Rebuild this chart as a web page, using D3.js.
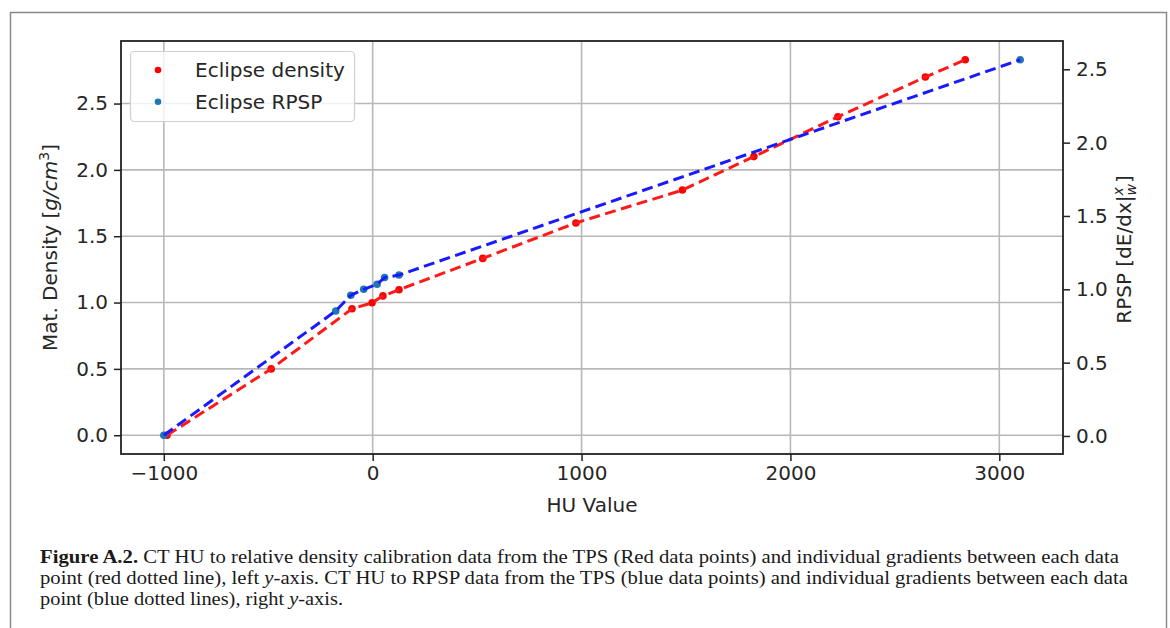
<!DOCTYPE html>
<html>
<head>
<meta charset="utf-8">
<script src="https://cdn.jsdelivr.net/npm/d3@7"></script>
<style>
  html, body { margin: 0; padding: 0; background: #fff; }
  svg { display: block; }
</style>
</head>
<body>
<svg id="chart" width="1170" height="628"></svg>
<script>
// ---- data ----
const densityHU = [-985, -486, -99, -3, 49, 126, 527, 973, 1483, 1825, 2227, 2646, 2837];
const densityVal = [0.0, 0.50, 0.953, 0.998, 1.05, 1.097, 1.333, 1.60, 1.848, 2.10, 2.40, 2.70, 2.83];
const rpspHU = [-1000, -177, -105, -43, 21, 57, 126, 3100];
const rpspVal = [0.005, 0.852, 0.959, 1.0, 1.034, 1.08, 1.097, 2.565];
const xTicks = [-1000, 0, 1000, 2000, 3000];
const yLeftTicks = [0.0, 0.5, 1.0, 1.5, 2.0, 2.5];
const yRightTicks = [0.0, 0.5, 1.0, 1.5, 2.0, 2.5];
const seriesNames = ["Eclipse density", "Eclipse RPSP"];
const captionLines = [
  [{t: "Figure A.2.", b: true}, {t: " CT HU to relative density calibration data from the TPS (Red data points) and individual gradients between each data"}],
  [{t: "point (red dotted line), left "}, {t: "y", i: true}, {t: "-axis. CT HU to RPSP data from the TPS (blue data points) and individual gradients between each data"}],
  [{t: "point (blue dotted lines), right "}, {t: "y", i: true}, {t: "-axis."}]
];

const svg = d3.select("#chart");
const font = "'DejaVu Sans', sans-serif";
const L = 121, R = 1063, T = 41, B = 454;

function padded(ext) { const p = (ext[1] - ext[0]) * 0.05; return [ext[0] - p, ext[1] + p]; }
const allHU = densityHU.concat(rpspHU);
const x = d3.scaleLinear().domain(padded(d3.extent(allHU))).range([L, R]);
const yL = d3.scaleLinear().domain(padded(d3.extent(densityVal))).range([B, T]);
const yR = d3.scaleLinear().domain(padded(d3.extent(rpspVal))).range([B, T]);

// outer frame
svg.append("path").attr("d", "M10.5,628 V12.5 H1166.5 V628")
  .attr("fill", "none").attr("stroke", "#8a8a8a").attr("stroke-width", 1.5);

// grid
const grid = svg.append("g");
grid.selectAll(".gx").data(xTicks).enter().append("line")
  .attr("x1", d => x(d)).attr("x2", d => x(d)).attr("y1", T).attr("y2", B)
  .attr("stroke", "#b8b8b8").attr("stroke-width", 1.6);
grid.selectAll(".gy").data(yLeftTicks).enter().append("line")
  .attr("x1", L).attr("x2", R).attr("y1", d => yL(d)).attr("y2", d => yL(d))
  .attr("stroke", "#b8b8b8").attr("stroke-width", 1.6);

// series
const dData = densityHU.map((h, i) => [h, densityVal[i]]);
const rData = rpspHU.map((h, i) => [h, rpspVal[i]]);
const lineD = d3.line().x(d => x(d[0])).y(d => yL(d[1]));
const lineR = d3.line().x(d => x(d[0])).y(d => yR(d[1]));

svg.append("g").selectAll("circle").data(dData).enter().append("circle")
  .attr("cx", d => x(d[0])).attr("cy", d => yL(d[1])).attr("r", 3.8).attr("fill", "#ff0000");
svg.append("path").datum(dData).attr("d", lineD).attr("fill", "none")
  .attr("stroke", "#ff1a1a").attr("stroke-width", 3).attr("stroke-dasharray", "11,5.5");

svg.append("g").selectAll("circle").data(rData).enter().append("circle")
  .attr("cx", d => x(d[0])).attr("cy", d => yR(d[1])).attr("r", 3.8).attr("fill", "#1f77b4");
svg.append("path").datum(rData).attr("d", lineR).attr("fill", "none")
  .attr("stroke", "#1a1aff").attr("stroke-width", 3).attr("stroke-dasharray", "11,5.5");

// axes
const axStyle = g => {
  g.select(".domain").remove();
  g.selectAll(".tick line").attr("stroke", "#222").attr("stroke-width", 1.5);
  g.selectAll(".tick text").attr("font-family", font).attr("font-size", 20).attr("fill", "#262626");
};
svg.append("g").attr("transform", `translate(0,${B})`)
  .call(d3.axisBottom(x).tickValues(xTicks).tickSize(7).tickPadding(5)
    .tickFormat(d => d < 0 ? "\u2212" + Math.abs(d) : String(d)))
  .call(axStyle);
svg.append("g").attr("transform", `translate(${L},0)`)
  .call(d3.axisLeft(yL).tickValues(yLeftTicks).tickSize(7).tickPadding(6).tickFormat(d3.format(".1f")))
  .call(axStyle);
svg.append("g").attr("transform", `translate(${R},0)`)
  .call(d3.axisRight(yR).tickValues(yRightTicks).tickSize(7).tickPadding(6).tickFormat(d3.format(".1f")))
  .call(axStyle);

// spines
svg.append("rect").attr("x", L).attr("y", T).attr("width", R - L).attr("height", B - T)
  .attr("fill", "none").attr("stroke", "#222").attr("stroke-width", 1.8);

// axis labels
svg.append("text").attr("x", (L + R) / 2).attr("y", 512).attr("text-anchor", "middle")
  .attr("font-family", font).attr("font-size", 20).attr("fill", "#262626").text("HU Value");

const yl = svg.append("text").attr("transform", `translate(57,${(T + B) / 2}) rotate(-90)`)
  .attr("text-anchor", "middle").attr("font-family", font).attr("font-size", 20).attr("fill", "#262626");
yl.append("tspan").text("Mat. Density [");
yl.append("tspan").attr("font-style", "italic").text("g/cm");
yl.append("tspan").attr("font-size", 14).attr("dy", -8).text("3");
yl.append("tspan").attr("dy", 8).text("]");

const yr = svg.append("text").attr("transform", `translate(1131,${(T + B) / 2 + 2}) rotate(-90)`)
  .attr("text-anchor", "middle").attr("font-family", font).attr("font-size", 20).attr("fill", "#262626");
yr.append("tspan").text("RPSP [dE/dx|");
yr.append("tspan").attr("font-size", 14).attr("font-style", "italic").attr("dy", -8).text("x");
yr.append("tspan").attr("font-size", 14).attr("font-style", "italic").attr("dx", -8.3).attr("dy", 13).text("w");
yr.append("tspan").attr("dy", -5).attr("dx", 1).text("]");

// legend
const lg = svg.append("g");
lg.append("rect").attr("x", 130.5).attr("y", 51.5).attr("width", 224).attr("height", 70).attr("rx", 4)
  .attr("fill", "#fff").attr("fill-opacity", 0.8).attr("stroke", "#d0d0d0").attr("stroke-width", 1.2);
const legColors = ["#ff0000", "#1f77b4"];
seriesNames.forEach((n, i) => {
  const cy = 70 + i * 31.7;
  lg.append("circle").attr("cx", 158).attr("cy", cy).attr("r", 3.3).attr("fill", legColors[i]);
  lg.append("text").attr("x", 195).attr("y", cy + 7).attr("font-family", font).attr("font-size", 20)
    .attr("fill", "#262626").text(n);
});

// caption
const capY = [563, 584, 605];
const capW = [1079, 1088, 303];
captionLines.forEach((parts, i) => {
  const t = svg.append("text").attr("x", 40).attr("y", capY[i])
    .attr("font-family", "'Liberation Serif', serif").attr("font-size", 19.5).attr("fill", "#1a1a1a")
    .attr("textLength", capW[i]).attr("lengthAdjust", "spacingAndGlyphs");
  parts.forEach(p => {
    const s = t.append("tspan").text(p.t);
    if (p.b) s.attr("font-weight", "bold");
    if (p.i) s.attr("font-style", "italic");
  });
});
</script>
</body>
</html>
